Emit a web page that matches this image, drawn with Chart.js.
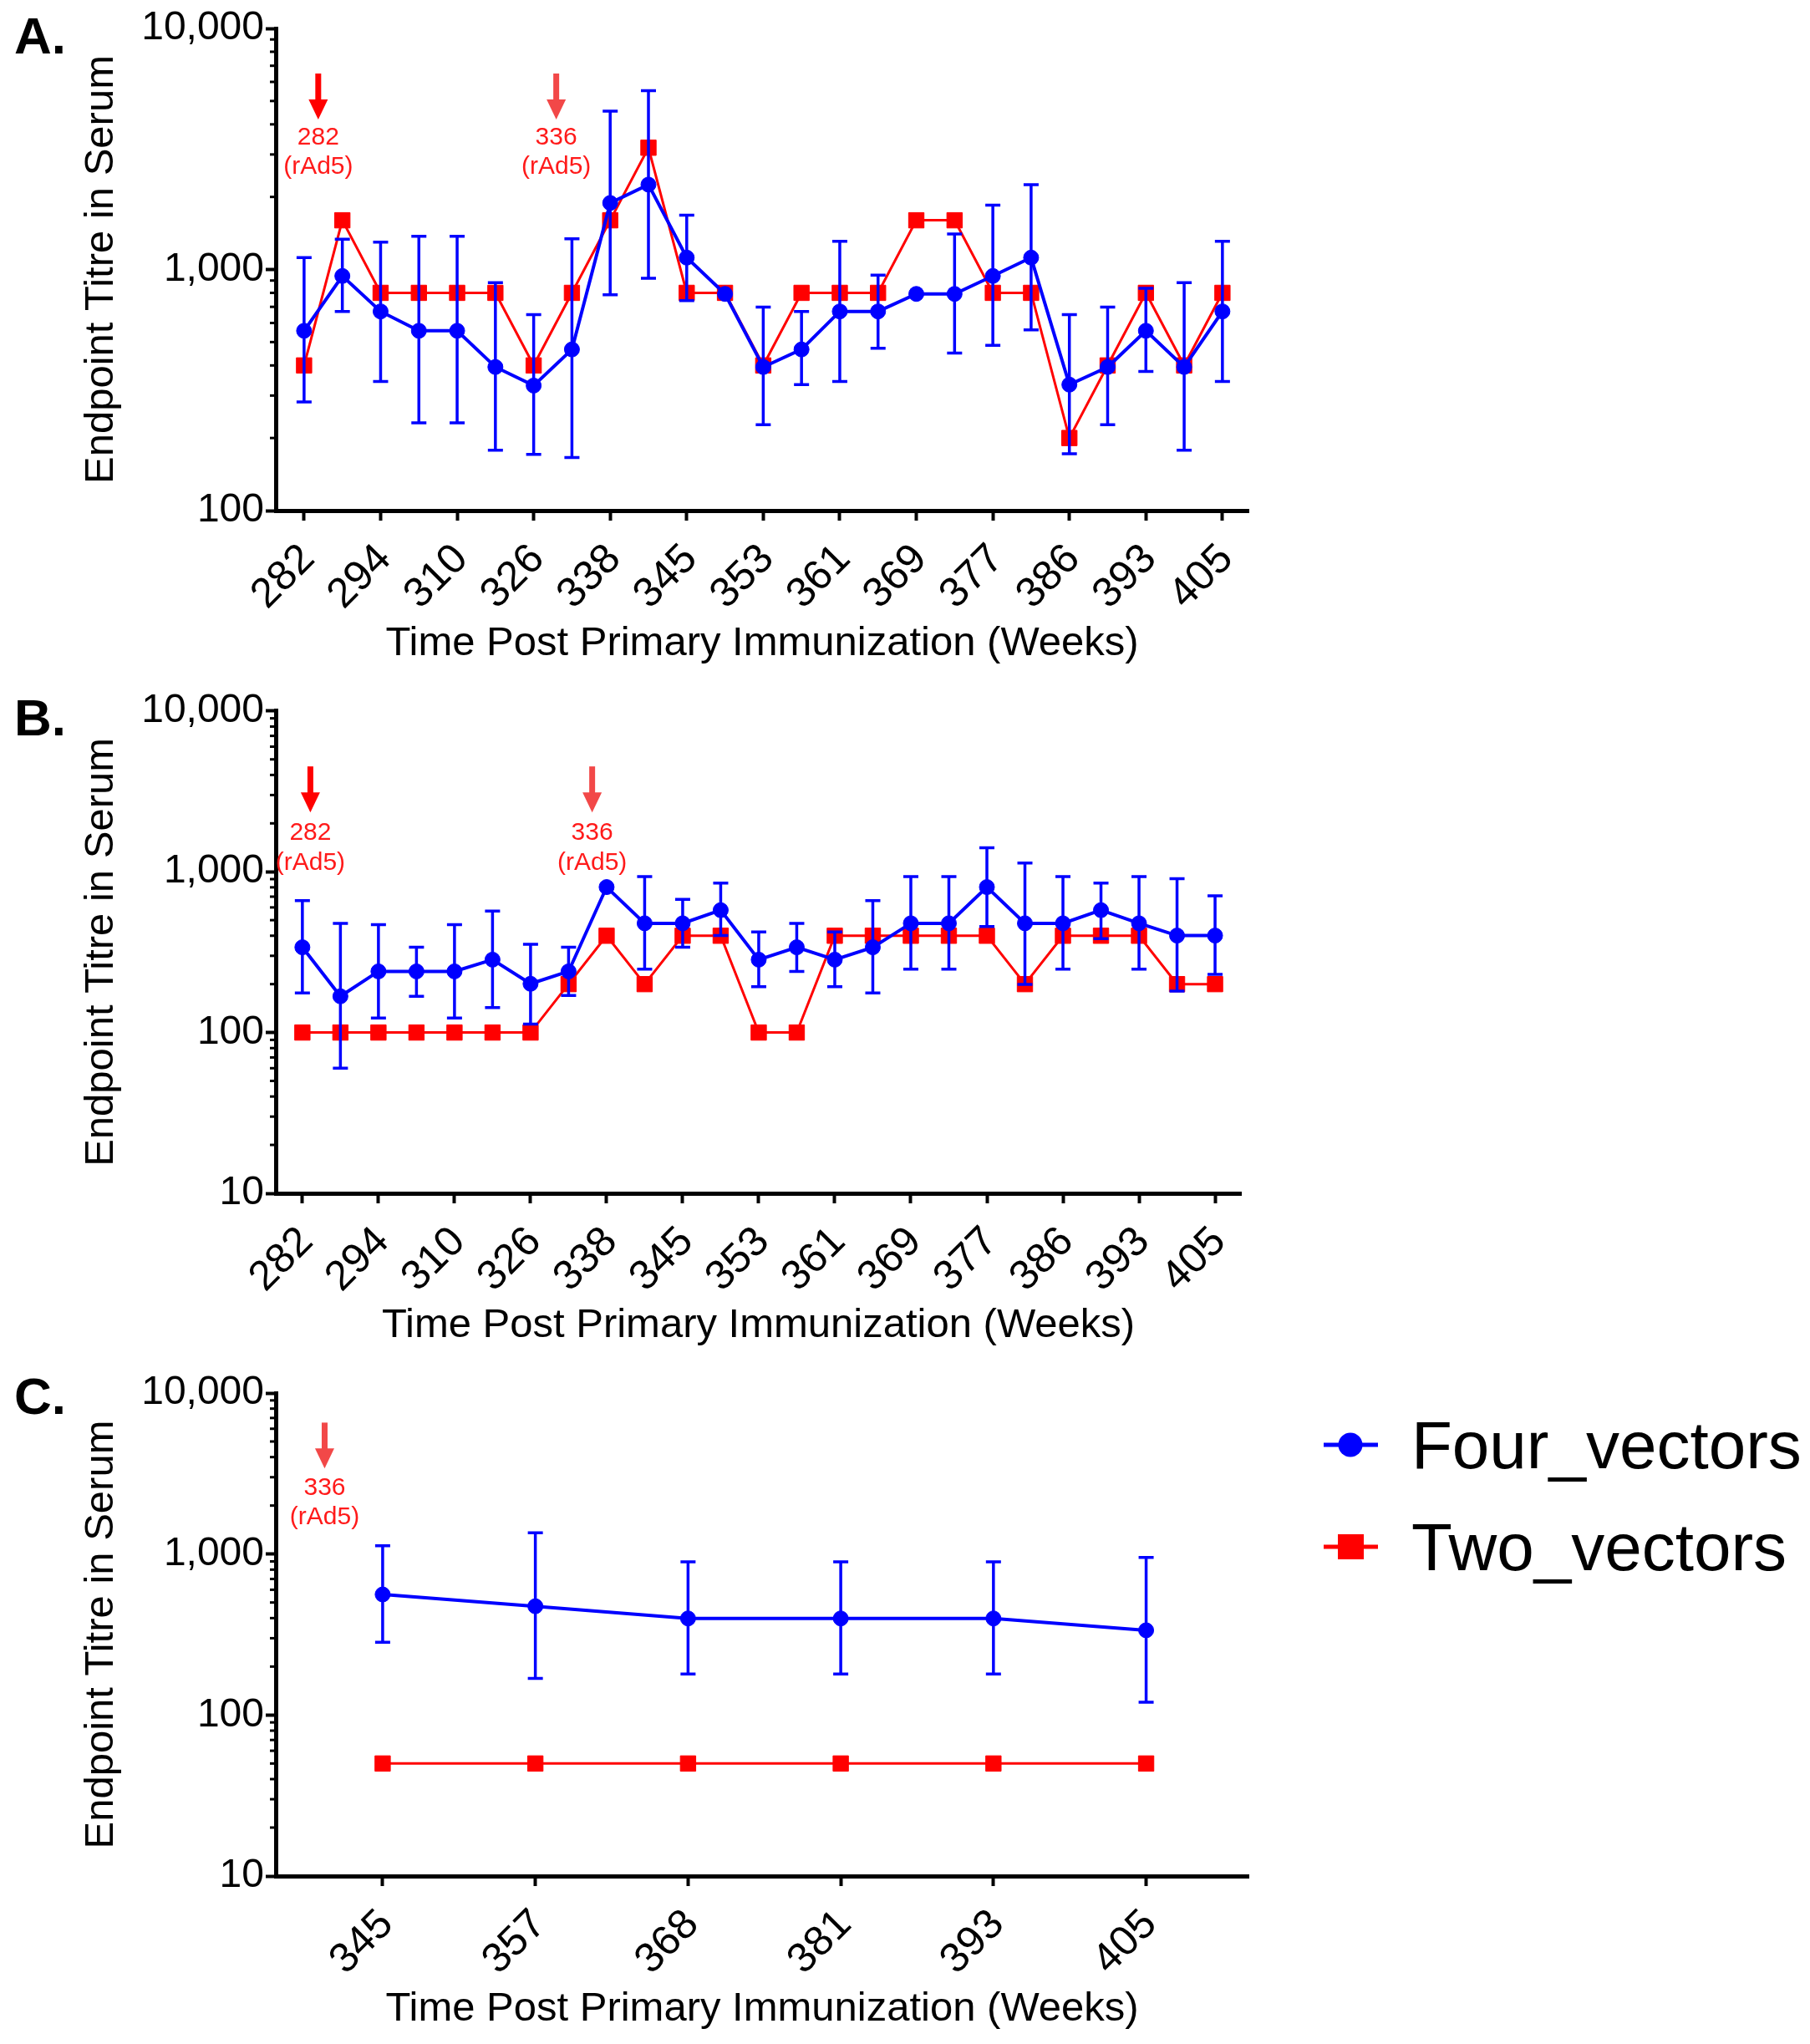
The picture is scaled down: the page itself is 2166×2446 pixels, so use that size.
<!DOCTYPE html>
<html lang="en">
<head>
<meta charset="UTF-8">
<title>Endpoint Titre in Serum</title>
<script src="https://cdn.jsdelivr.net/npm/chart.js"></script>
<style>
  body { margin: 0; background: #fff; }
  #page { position: relative; width: 2166px; height: 2446px; font-family: "Liberation Sans", Arial, Helvetica, sans-serif; }
  canvas { position: absolute; left: 0; }
  .panel-label { position: absolute; left: 17px; font-weight: bold; font-size: 62px; line-height: 62px; color: #000; }
  .legend-item { position: absolute; left: 1580px; height: 80px; }
  .legend-item svg { position: absolute; left: 0; top: 0; }
  .legend-item span { position: absolute; left: 109px; top: 0; font-size: 80px; line-height: 80px; color: #000; white-space: nowrap; }
</style>
</head>
<body>
<div id="page">
  <div class="panel-label" style="top:12px">A.</div>
  <div class="panel-label" style="top:828px">B.</div>
  <div class="panel-label" style="top:1640px">C.</div>
  <canvas id="chartA" width="1510" height="820" style="top:0px;width:1510px;height:820px"></canvas>
  <canvas id="chartB" width="1501" height="820" style="top:820px;width:1501px;height:820px"></canvas>
  <canvas id="chartC" width="1510" height="810" style="top:1636px;width:1510px;height:810px"></canvas>
  <div id="legend"></div>
</div>
<script>
const FONT = '"Liberation Sans", Arial, Helvetica, sans-serif';
Chart.defaults.font.family = FONT;
Chart.defaults.color = '#000';

const seriesNames = ['Four_vectors', 'Two_vectors'];
const seriesColors = ['#0000ff', '#ff0000'];

// panels A and B: 25 time points, every other one labelled
const weekTicksAB = ['282', '294', '310', '326', '338', '345', '353', '361', '369', '377', '386', '393', '405'];

// A
const fourA   = [557, 940, 670, 557, 557, 394, 330, 466, 1888, 2250, 1120, 792, 394, 466, 670, 670, 792, 792, 940, 1120, 333, 394, 557, 394, 670];
const fourAHi = [1120, 1335, 1300, 1374, 1374, 882, 650, 1340, 4540, 5520, 1680, 792, 698, 670, 1310, 947, 792, 1403, 1848, 2250, 650, 698, 836, 882, 1310];
const fourALo = [282, 670, 343, 231, 231, 178, 171, 166, 785, 920, 743, 792, 227, 333, 343, 471, 792, 450, 485, 562, 172, 227, 378, 178, 343];
const twoA    = [400, 1600, 800, 800, 800, 800, 400, 800, 1600, 3200, 800, 800, 400, 800, 800, 800, 1600, 1600, 800, 800, 200, 400, 800, 400, 800];

// B
const fourB   = [339, 168, 240, 240, 240, 284, 201, 240, 803, 478, 478, 577, 284, 339, 284, 339, 478, 478, 803, 478, 478, 577, 478, 401, 401];
const fourBHi = [662, 478, 469, 339, 469, 569, 354, 339, 803, 933, 674, 850, 422, 478, 422, 662, 933, 933, 1410, 1133, 933, 850, 933, 905, 709];
const fourBLo = [176, 60, 123, 168, 123, 143, 113, 170, 803, 248, 339, 401, 193, 240, 193, 176, 248, 248, 457, 199, 248, 384, 248, 181, 230];
const twoB    = [100, 100, 100, 100, 100, 100, 100, 200, 400, 200, 400, 400, 100, 100, 400, 400, 400, 400, 400, 200, 400, 400, 400, 200, 200];

// C
const weekTicksC = ['345', '357', '368', '381', '393', '405'];
const fourC   = [561, 474, 398, 398, 398, 336];
const fourCHi = [1125, 1356, 894, 894, 894, 952];
const fourCLo = [283, 169, 180, 180, 180, 120];
const twoC    = [50, 50, 50, 50, 50, 50];

// boost markers (x index, arrow top, arrow tip, text line values)
const boostsA = [
  { x: 0.37, top: 6500, tip: 4190, text: ['282', '(rAd5)'], textY: [3520, 2660], color: '#ff0000' },
  { x: 6.59, top: 6500, tip: 4190, text: ['336', '(rAd5)'], textY: [3520, 2660], color: '#f24848' }
];
const boostsB = [
  { x: 0.21, top: 4520, tip: 2340, text: ['282', '(rAd5)'], textY: [1750, 1140], color: '#ff0000' },
  { x: 7.62, top: 4520, tip: 2340, text: ['336', '(rAd5)'], textY: [1750, 1140], color: '#f24848' }
];
const boostsC = [
  { x: -0.38, top: 6550, tip: 3400, text: ['336', '(rAd5)'], textY: [2580, 1690], color: '#f24848' }
];

const isDecade = v => Math.abs(Math.log10(v) - Math.round(Math.log10(v))) < 1e-9;

function logTicks(min, max) {
  const out = [];
  for (let e = Math.round(Math.log10(min)); e < Math.round(Math.log10(max)); e++) {
    for (let m = 1; m < 10; m++) out.push({ value: m * Math.pow(10, e), major: m === 1 });
  }
  out.push({ value: max, major: true });
  return out;
}

function makePanel(id, cfg) {
  const pts = arr => arr.map((v, i) => ({ x: i, y: v }));

  const extras = {
    id: 'extras_' + id,
    beforeDatasetDraw(chart, args) {
      if (args.index !== 0) return;
      const { ctx, scales: { x, y } } = chart;
      ctx.save();
      ctx.strokeStyle = seriesColors[0];
      ctx.lineWidth = 3.5;
      cfg.hi.forEach((hi, i) => {
        const lo = cfg.lo[i];
        if (hi === lo) return;
        const px = x.getPixelForValue(i);
        const pt = y.getPixelForValue(hi), pb = y.getPixelForValue(lo);
        ctx.beginPath();
        ctx.moveTo(px, pt); ctx.lineTo(px, pb);
        ctx.moveTo(px - 9, pt); ctx.lineTo(px + 9, pt);
        ctx.moveTo(px - 9, pb); ctx.lineTo(px + 9, pb);
        ctx.stroke();
      });
      ctx.restore();
    },
    afterDraw(chart) {
      const { ctx, scales: { x, y } } = chart;
      ctx.save();
      // minor ticks on the log axis
      ctx.strokeStyle = '#000';
      ctx.lineWidth = 3;
      y.ticks.forEach(t => {
        if (isDecade(t.value)) return;
        const py = y.getPixelForValue(t.value);
        ctx.beginPath();
        ctx.moveTo(y.right - 7, py); ctx.lineTo(y.right, py);
        ctx.stroke();
      });
      // boost arrows
      cfg.boosts.forEach(b => {
        const px = x.getPixelForValue(b.x);
        const top = y.getPixelForValue(b.top), tip = y.getPixelForValue(b.tip);
        ctx.fillStyle = b.color;
        ctx.fillRect(px - 3.5, top, 7, tip - top - 22);
        ctx.beginPath();
        ctx.moveTo(px - 11.5, tip - 24);
        ctx.lineTo(px + 11.5, tip - 24);
        ctx.lineTo(px, tip);
        ctx.closePath();
        ctx.fill();
        ctx.fillStyle = '#ff1a1a';
        ctx.font = '30px ' + FONT;
        ctx.textAlign = 'center';
        ctx.textBaseline = 'middle';
        b.text.forEach((t, k) => ctx.fillText(t, px, y.getPixelForValue(b.textY[k])));
      });
      ctx.restore();
    }
  };

  return new Chart(document.getElementById(id), {
    type: 'line',
    data: {
      datasets: [
        {
          label: seriesNames[0], data: pts(cfg.four),
          borderColor: seriesColors[0], backgroundColor: seriesColors[0], borderWidth: 4,
          pointStyle: 'circle', pointRadius: 9, pointBorderWidth: 1,
          pointBackgroundColor: seriesColors[0], pointBorderColor: seriesColors[0],
          tension: 0, clip: false
        },
        {
          label: seriesNames[1], data: pts(cfg.two),
          borderColor: seriesColors[1], backgroundColor: seriesColors[1], borderWidth: 3,
          pointStyle: 'rect', pointRadius: 13, pointBorderWidth: 1,
          pointBackgroundColor: seriesColors[1], pointBorderColor: seriesColors[1],
          tension: 0, clip: false
        }
      ]
    },
    options: {
      responsive: false,
      animation: false,
      events: [],
      layout: { padding: { top: cfg.padTop, right: cfg.padRight, left: 0, bottom: 0 } },
      plugins: { legend: { display: false }, tooltip: { enabled: false } },
      scales: {
        x: {
          type: 'linear', min: cfg.xMin, max: cfg.xMax,
          afterBuildTicks: s => { s.ticks = cfg.xTicks.map(v => ({ value: v })); },
          afterFit: s => { s.height = cfg.xHeight; s.paddingLeft = 0; s.paddingRight = 0; },
          border: { display: true, color: '#000', width: 5 },
          grid: { drawOnChartArea: false, drawTicks: true, tickLength: 12, tickWidth: 4, tickColor: '#000' },
          ticks: {
            autoSkip: false, minRotation: 45, maxRotation: 45, labelOffset: 5, padding: 17,
            color: '#000', font: { size: 50 },
            callback: v => cfg.xLabel(v)
          },
          title: {
            display: true, text: 'Time Post Primary Immunization (Weeks)', color: '#000',
            font: { size: 49 }, padding: { top: 0, bottom: cfg.titlePad }
          }
        },
        y: {
          type: 'logarithmic', min: cfg.yMin, max: cfg.yMax,
          afterBuildTicks: s => { s.ticks = logTicks(cfg.yMin, cfg.yMax); },
          afterFit: s => { s.width = 330; },
          border: { display: true, color: '#000', width: 5 },
          grid: {
            drawOnChartArea: false, drawTicks: true, tickLength: 12, tickWidth: 4,
            tickColor: c => (c.tick && isDecade(c.tick.value)) ? '#000' : 'rgba(0,0,0,0)'
          },
          ticks: {
            autoSkip: false, padding: 2, color: '#000', font: { size: 48 },
            callback: v => isDecade(v) ? Math.round(v).toLocaleString('en-US') : ''
          },
          title: {
            display: true, text: 'Endpoint Titre in Serum', color: '#000',
            font: { size: 49 }, padding: { top: 92, bottom: 0 }
          }
        }
      }
    },
    plugins: [extras]
  });
}

const ticksAB = weekTicksAB.map((_, k) => 2 * k);
const ticksC = weekTicksC.map((_, k) => k);

makePanel('chartA', {
  four: fourA, hi: fourAHi, lo: fourALo, two: twoA, boosts: boostsA,
  xMin: -0.74, xMax: 24.68, xTicks: ticksAB, xLabel: v => weekTicksAB[v / 2],
  yMin: 100, yMax: 10000, padTop: 34, padRight: 16, xHeight: 209, titlePad: 20
});
makePanel('chartB', {
  four: fourB, hi: fourBHi, lo: fourBLo, two: twoB, boosts: boostsB,
  xMin: -0.70, xMax: 24.68, xTicks: ticksAB, xLabel: v => weekTicksAB[v / 2],
  yMin: 10, yMax: 10000, padTop: 30, padRight: 16, xHeight: 212, titlePad: 24
});
makePanel('chartC', {
  four: fourC, hi: fourCHi, lo: fourCLo, two: twoC, boosts: boostsC,
  xMin: -0.70, xMax: 5.67, xTicks: ticksC, xLabel: v => weekTicksC[v],
  yMin: 10, yMax: 10000, padTop: 31, padRight: 16, xHeight: 201, titlePad: 12
});

// legend (next to panel C)
const legendTops = [1690, 1812];
const legend = document.getElementById('legend');
seriesNames.forEach((name, i) => {
  const item = document.createElement('div');
  item.className = 'legend-item';
  item.style.top = legendTops[i] + 'px';
  const c = seriesColors[i];
  const mark = i === 0
    ? `<circle cx="36" cy="39" r="14.5" fill="${c}"/>`
    : `<rect x="21" y="24" width="31" height="30" fill="${c}"/>`;
  item.innerHTML = `<svg width="75" height="80"><line x1="4" y1="39" x2="69" y2="39" stroke="${c}" stroke-width="5"/>${mark}</svg><span>${name}</span>`;
  legend.appendChild(item);
});
</script>
</body>
</html>
